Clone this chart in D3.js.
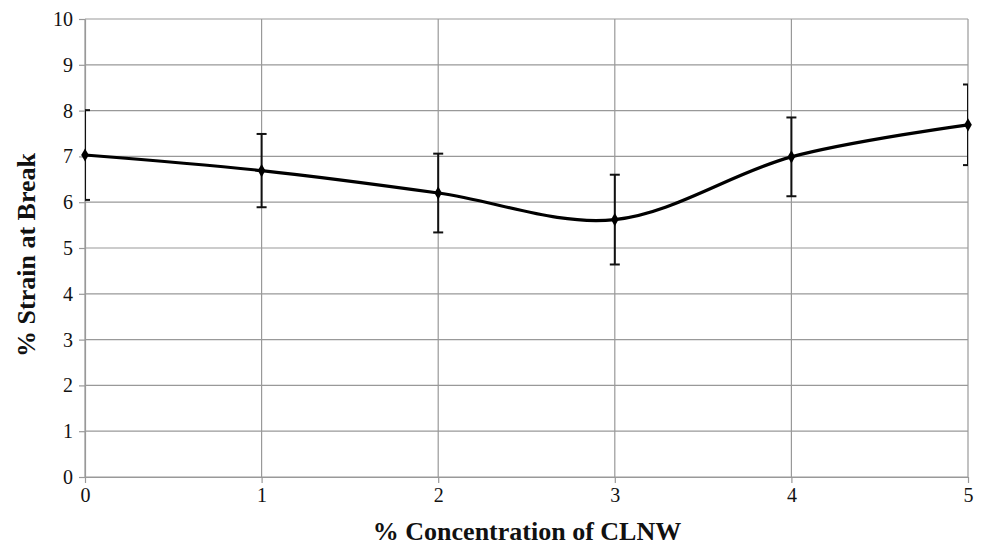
<!DOCTYPE html>
<html>
<head>
<meta charset="utf-8">
<script src="https://cdn.jsdelivr.net/npm/d3@7"></script>
<style>
  body { margin: 0; background: #fff; }
</style>
</head>
<body>
<svg id="svg" width="982" height="545"></svg>
<script>
const concentration = [0, 1, 2, 3, 4, 5];
const strain = [7.03, 6.69, 6.2, 5.62, 6.99, 7.69];
const errors = [0.98, 0.8, 0.86, 0.98, 0.86, 0.88];
const yTicks = [0, 1, 2, 3, 4, 5, 6, 7, 8, 9, 10];

const serif = "'Liberation Serif', 'Times New Roman', serif";

const svg = d3.select("#svg"),
    plotLeft = 85, plotRight = 968, plotTop = 19, plotBottom = 477;

const x = d3.scaleLinear().domain([0, 5]).range([plotLeft, plotRight]),
    y = d3.scaleLinear().domain([0, 10]).range([plotBottom, plotTop]);

// grid
svg.append("g").selectAll("line").data(yTicks).join("line")
    .attr("x1", plotLeft).attr("x2", plotRight)
    .attr("y1", d => y(d)).attr("y2", d => y(d))
    .attr("stroke", "#999").attr("stroke-width", 1.2);
svg.append("g").selectAll("line").data(concentration).join("line")
    .attr("x1", d => x(d)).attr("x2", d => x(d))
    .attr("y1", plotTop).attr("y2", plotBottom)
    .attr("stroke", "#999").attr("stroke-width", 1.2);

// axes
const yAxis = svg.append("g").attr("transform", "translate(" + plotLeft + ",0)")
    .call(d3.axisLeft(y).tickValues(yTicks).tickFormat(d3.format("d")).tickSize(6).tickPadding(6).tickSizeOuter(0));
const xAxis = svg.append("g").attr("transform", "translate(0," + plotBottom + ")")
    .call(d3.axisBottom(x).tickValues(concentration).tickFormat(d3.format("d")).tickSize(6).tickPadding(5).tickSizeOuter(0));
[xAxis, yAxis].forEach(a => {
    a.attr("font-family", null).attr("font-size", null);
    a.selectAll("path, line").attr("stroke", "#999").attr("stroke-width", 1.2);
    a.selectAll("text").attr("fill", "#111")
        .style("font-family", serif).style("font-size", "20px");
});

// clip for error bar caps
svg.append("clipPath").attr("id", "plot")
    .append("rect").attr("x", plotLeft).attr("y", 0).attr("width", plotRight - plotLeft).attr("height", plotBottom);

const data = concentration.map((c, i) => ({ c: c, v: strain[i], e: errors[i] }));

// error bars
const eb = svg.append("g").attr("clip-path", "url(#plot)").attr("stroke", "#111").attr("stroke-width", 2);
eb.selectAll(".stem").data(data).join("line")
    .attr("x1", d => x(d.c)).attr("x2", d => x(d.c))
    .attr("y1", d => y(d.v + d.e)).attr("y2", d => y(d.v - d.e));
eb.selectAll(".capTop").data(data).join("line")
    .attr("x1", d => x(d.c) - 5).attr("x2", d => x(d.c) + 5)
    .attr("y1", d => y(d.v + d.e)).attr("y2", d => y(d.v + d.e));
eb.selectAll(".capBot").data(data).join("line")
    .attr("x1", d => x(d.c) - 5).attr("x2", d => x(d.c) + 5)
    .attr("y1", d => y(d.v - d.e)).attr("y2", d => y(d.v - d.e));

// smoothed line
const line = d3.line().x(d => x(d.c)).y(d => y(d.v)).curve(d3.curveCardinal.tension(0));
svg.append("path").datum(data).attr("d", line)
    .attr("fill", "none").attr("stroke", "#000").attr("stroke-width", 3.2);

// diamond markers
svg.append("g").selectAll("path").data(data).join("path")
    .attr("d", d3.symbol(d3.symbolDiamond, 50))
    .attr("transform", d => "translate(" + x(d.c) + "," + y(d.v) + ")")
    .attr("fill", "#000");

// axis titles
svg.append("text")
    .style("font-family", serif).style("font-size", "26px").attr("font-weight", "bold").attr("fill", "#111")
    .attr("x", 527).attr("y", 540)
    .attr("text-anchor", "middle").text("% Concentration of CLNW");
svg.append("text")
    .style("font-family", serif).style("font-size", "26px").attr("font-weight", "bold").attr("fill", "#111")
    .attr("transform", "translate(35,255) rotate(-90)")
    .attr("text-anchor", "middle").text("% Strain at Break");
</script>
</body>
</html>
